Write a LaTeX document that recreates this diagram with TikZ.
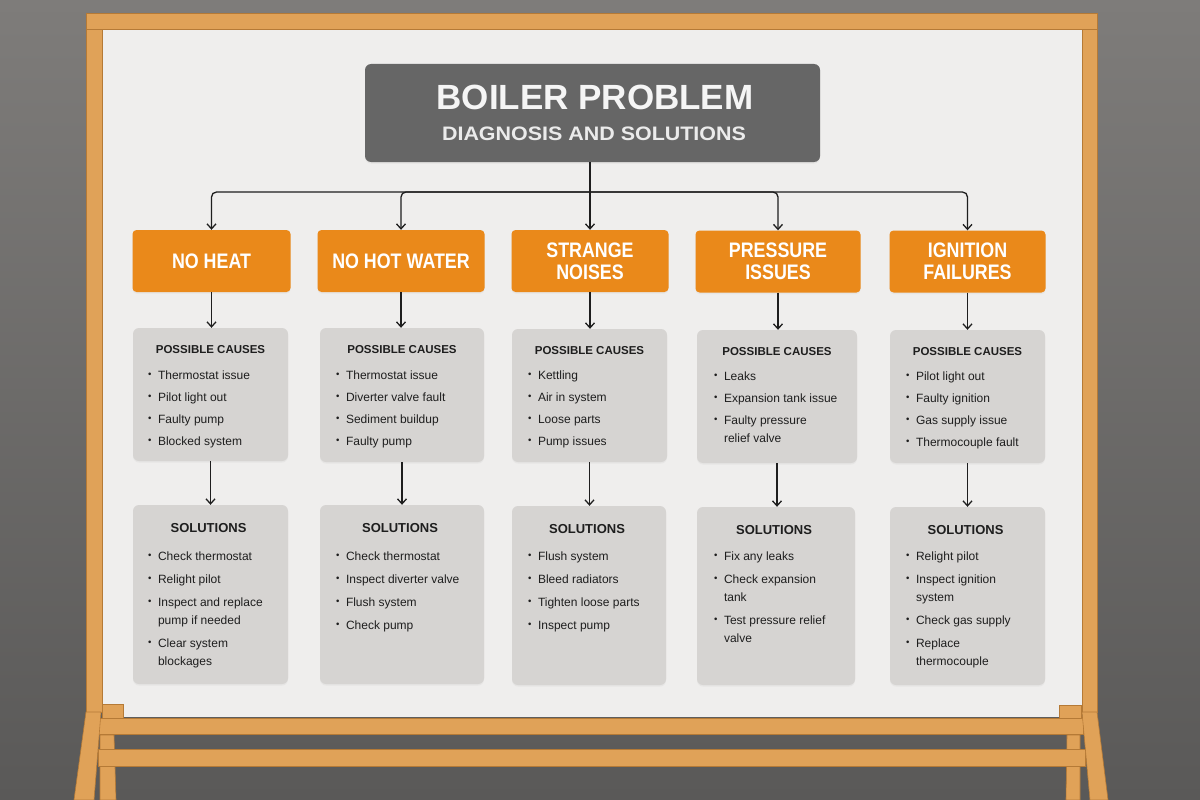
\documentclass[tikz,border=0pt]{standalone}
\usepackage{fontspec}
\setmainfont{Liberation Sans}
\newfontfamily\catfont[FakeStretch=0.85]{Liberation Sans}
\newfontfamily\subfont[FakeStretch=1.1]{Liberation Sans}
\usepackage{graphicx}
\usetikzlibrary{arrows.meta,calc,shadows}
\definecolor{bgA}{HTML}{7E7C7A}
\definecolor{bgB}{HTML}{5A5958}
\definecolor{board}{HTML}{EFEEED}
\definecolor{wood}{HTML}{E0A258}
\definecolor{woodD}{HTML}{B57A36}
\definecolor{orng}{HTML}{EA891A}
\definecolor{ttl}{HTML}{666666}
\definecolor{card}{HTML}{D6D4D2}
\definecolor{ink}{HTML}{1E1E1E}
\newcommand\itm{\rule{0pt}{10pt}\makebox[10pt][l]{\raisebox{0.12em}{\scalebox{0.8}{\textbullet}}}}
\newcommand\cnt{\rule{0pt}{10pt}\hspace*{10pt}}
\begin{document}
\begin{tikzpicture}[x=1pt,y=-1pt,
  woodpart/.style={fill=wood, draw=woodD, line width=0.6pt},
  cat/.style={fill=orng, rounded corners=4pt, inner sep=0pt, minimum height=62pt,
    text=white, font=\catfont\bfseries\fontsize{21}{22}\selectfont, align=center,
    drop shadow={opacity=0.08, shadow xshift=0pt, shadow yshift=-1.5pt}},
  card/.style={fill=card, rounded corners=6pt, inner sep=0pt,
    drop shadow={opacity=0.08, shadow xshift=0pt, shadow yshift=-1.5pt}},
  head/.style={font=\bfseries\fontsize{11.5}{14}\selectfont, text=ink, anchor=base, inner sep=0pt},
  shead/.style={font=\bfseries\fontsize{13}{15}\selectfont, text=ink, anchor=base, inner sep=0pt},
  lst/.style={font=\fontsize{12}{18}\selectfont, text=ink, align=left, anchor=north west, inner sep=0pt},
  link/.style={draw=ink, line width=1.3pt},
  arr/.style={link, -{Straight Barb[length=5pt,width=9pt]}}]
\useasboundingbox (0,0) rectangle (1200,800);
% background
\shade[top color=bgA, bottom color=bgB] (0,0) rectangle (1200,800);
% back legs
\path[woodpart] (100,735) -- (114,735) -- (116,800) -- (100,800) -- cycle;
\path[woodpart] (1067,735) -- (1080,735) -- (1080,800) -- (1066,800) -- cycle;
% board
\fill[board] (102,28) rectangle (1082,717);
% frame
\path[woodpart] (86,13) rectangle (1097,29);
\path[woodpart] (86,29) rectangle (102,712);
\path[woodpart] (1082,29) rectangle (1097,712);
% posts and rails
\path[woodpart] (102,704) rectangle (123,718);
\path[woodpart] (1059,705) rectangle (1081,718);
\path[woodpart] (98,718) rectangle (1083,734);
\path[woodpart] (98,749) rectangle (1085,766);
% front legs
\path[woodpart] (86,712) -- (101,712) -- (94,800) -- (74,800) -- cycle;
\path[woodpart] (1082,712) -- (1097,712) -- (1108,800) -- (1090,800) -- cycle;

% title
\node[fill=ttl, rounded corners=6pt, minimum width=455pt, minimum height=98pt, inner sep=0pt,
  drop shadow={opacity=0.1, shadow xshift=0pt, shadow yshift=-1.5pt}] (title) at (592.5,113) {};
\node[font=\bfseries\fontsize{35}{40}\selectfont, text=white!96!black, anchor=base, inner sep=0pt] (t1) at (595,110) {BOILER PROBLEM};
\node[font=\subfont\bfseries\fontsize{19.5}{24}\selectfont, text=white!92!black, anchor=base, inner sep=0pt] (t2) at (594,140) {DIAGNOSIS AND SOLUTIONS};

% categories
\node[cat, minimum width=158pt] (k1) at (211.5,261) {NO HEAT};
\node[cat, minimum width=167pt] (k2) at (401,261) {NO HOT WATER};
\node[cat, minimum width=157pt] (k3) at (590,261) {STRANGE\\NOISES};
\node[cat, minimum width=165pt] (k4) at (778,261.5) {PRESSURE\\ISSUES};
\node[cat, minimum width=156pt] (k5) at (967.5,261.5) {IGNITION\\FAILURES};

% cause cards
\node[card, minimum width=155pt, minimum height=133pt] (p1) at (210.5,394.5) {};
\node[card, minimum width=164pt, minimum height=134pt] (p2) at (402,395) {};
\node[card, minimum width=155pt, minimum height=133pt] (p3) at (589.5,395.5) {};
\node[card, minimum width=160pt, minimum height=133pt] (p4) at (777,396.5) {};
\node[card, minimum width=155pt, minimum height=133pt] (p5) at (967.5,396.5) {};
% solution cards
\node[card, minimum width=155pt, minimum height=179pt] (s1) at (210.5,594.5) {};
\node[card, minimum width=164pt, minimum height=179pt] (s2) at (402,594.5) {};
\node[card, minimum width=154pt, minimum height=179pt] (s3) at (589,595.5) {};
\node[card, minimum width=158pt, minimum height=178pt] (s4) at (776,596) {};
\node[card, minimum width=155pt, minimum height=178pt] (s5) at (967.5,596) {};

% headings
\foreach \i in {1,...,5}{
  \node[head] (ph\i) at ($(p\i.north)+(0,26)$) {POSSIBLE CAUSES};
  \node[shead] (sh\i) at ($(s\i.north)+(-2,28)$) {SOLUTIONS};
}

% cause lists
\node[lst] (pl1) at ($(p1.north west)+(15,41)$) {\itm Thermostat issue\\[4pt]\itm Pilot light out\\[4pt]\itm Faulty pump\\[4pt]\itm Blocked system};
\node[lst] (pl2) at ($(p2.north west)+(16,41)$) {\itm Thermostat issue\\[4pt]\itm Diverter valve fault\\[4pt]\itm Sediment buildup\\[4pt]\itm Faulty pump};
\node[lst] (pl3) at ($(p3.north west)+(16,40)$) {\itm Kettling\\[4pt]\itm Air in system\\[4pt]\itm Loose parts\\[4pt]\itm Pump issues};
\node[lst] (pl4) at ($(p4.north west)+(17,40)$) {\itm Leaks\\[4pt]\itm Expansion tank issue\\[4pt]\itm Faulty pressure\\\cnt relief valve};
\node[lst] (pl5) at ($(p5.north west)+(16,40)$) {\itm Pilot light out\\[4pt]\itm Faulty ignition\\[4pt]\itm Gas supply issue\\[4pt]\itm Thermocouple fault};

% solution lists
\node[lst] (sl1) at ($(s1.north west)+(15,45)$) {\itm Check thermostat\\[5pt]\itm Relight pilot\\[5pt]\itm Inspect and replace\\\cnt pump if needed\\[5pt]\itm Clear system\\\cnt blockages};
\node[lst] (sl2) at ($(s2.north west)+(16,45)$) {\itm Check thermostat\\[5pt]\itm Inspect diverter valve\\[5pt]\itm Flush system\\[5pt]\itm Check pump};
\node[lst] (sl3) at ($(s3.north west)+(16,44)$) {\itm Flush system\\[5pt]\itm Bleed radiators\\[5pt]\itm Tighten loose parts\\[5pt]\itm Inspect pump};
\node[lst] (sl4) at ($(s4.north west)+(17,43)$) {\itm Fix any leaks\\[5pt]\itm Check expansion\\\cnt tank\\[5pt]\itm Test pressure relief\\\cnt valve};
\node[lst] (sl5) at ($(s5.north west)+(16,43)$) {\itm Relight pilot\\[5pt]\itm Inspect ignition\\\cnt system\\[5pt]\itm Check gas supply\\[5pt]\itm Replace\\\cnt thermocouple};

% connectors
\coordinate (hub) at (590,192);
\draw[link] (hub |- title.south) -- (hub);
\foreach \i in {1,...,5}{
  \draw[arr, rounded corners=5pt] (hub) -| (k\i.north);
  \draw[arr] (k\i.south) -- (k\i.south |- p\i.north);
  \draw[arr] (p\i.south) -- (p\i.south |- s\i.north);
}
\end{tikzpicture}
\end{document}
